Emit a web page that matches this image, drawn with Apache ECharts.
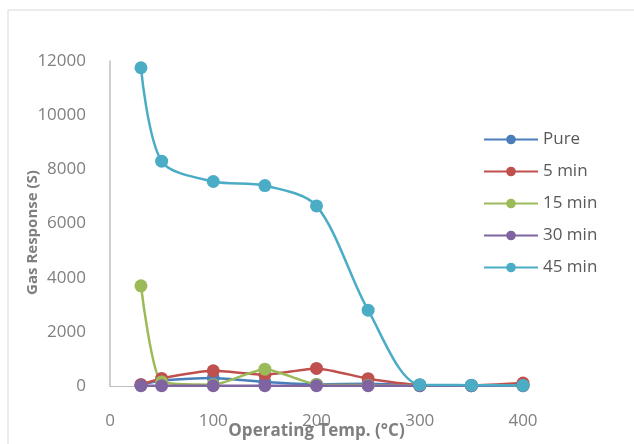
<!DOCTYPE html>
<html>
<head>
<meta charset="utf-8">
<script src="https://cdn.jsdelivr.net/npm/echarts@6/dist/echarts.min.js"></script>
<style>
  html, body { margin: 0; padding: 0; background: #fff; }
  #chart { width: 634px; height: 444px; }
</style>
</head>
<body>
<div id="chart"></div>
<script>
// operating temperature (°C)
const temps = [30, 50, 100, 150, 200, 250, 300, 350, 400];

const pure   = [50, 200, 300, 150, 60, 80, 20, 10, 30];
const min5   = [50, 280, 560, 420, 650, 270, 40, 20, 110];
const min15  = [3700, 150, 50, 620, 60, 30, 10, 10, 10];
const min30  = [10, 10, 10, 10, 10, 10, 10, 10, 10];
const min45  = [11750, 8300, 7550, 7400, 6650, 2800, 50, 30, 20];

const seriesNames = ['Pure', '5 min', '15 min', '30 min', '45 min'];
const seriesData = [pure, min5, min15, min30, min45];
const colors = ['#4a7ebb', '#c0504d', '#9bbb59', '#8064a2', '#4bacc6'];
const smoothing = [0.2, 0.2, 0.2, 0.2, 0.3];

const yTicks = [0, 2000, 4000, 6000, 8000, 10000, 12000];
const xTicks = [0, 100, 200, 300, 400];

const chart = echarts.init(document.getElementById('chart'));

const textColor = '#595959';
const font = '"Open Sans", sans-serif';

const option = {
  animation: false,
  textStyle: { fontFamily: font },
  graphic: [{
    type: 'rect',
    shape: { x: 8, y: 10, width: 640, height: 450 },
    style: { fill: 'none', stroke: '#d9d9d9', lineWidth: 1 },
    silent: true
  }],
  grid: { left: 110, right: 111, top: 61, bottom: 58, containLabel: false, outerBoundsMode: 'none' },
  xAxis: {
    type: 'value',
    min: xTicks[0],
    max: xTicks[xTicks.length - 1],
    interval: 100,
    name: 'Operating Temp. (\u00B0C)',
    nameLocation: 'middle',
    nameGap: 37,
    nameMoveOverlap: false,
    nameTextStyle: { color: '#7f7f7f', fontSize: 17, fontWeight: 'bold', fontFamily: font },
    axisLine: { show: true, lineStyle: { color: '#bfbfbf', width: 1 } },
    axisTick: { show: false },
    splitLine: { show: false },
    axisLabel: { color: '#808080', fontSize: 17, margin: 27, fontFamily: font, formatter: v => String(v) }
  },
  yAxis: {
    type: 'value',
    min: yTicks[0],
    max: yTicks[yTicks.length - 1],
    interval: 2000,
    name: 'Gas Response (S)',
    nameLocation: 'middle',
    nameGap: 70,
    nameMoveOverlap: false,
    nameRotate: 90,
    nameTextStyle: { color: '#7f7f7f', fontSize: 15, fontWeight: 'bold', fontFamily: font, padding: [0, 18, 0, 0] },
    axisLine: { show: true, lineStyle: { color: '#bfbfbf', width: 1.5 } },
    axisTick: { show: false },
    splitLine: { show: false },
    axisLabel: { color: '#808080', fontSize: 17, margin: 24, fontFamily: font, formatter: v => String(v) }
  },
  legend: {
    orient: 'vertical',
    left: 483,
    top: 131,
    padding: 0,
    itemWidth: 54,
    itemHeight: 12,
    itemGap: 15,
    data: seriesNames,
    textStyle: { color: textColor, fontSize: 17, fontFamily: font }
  },
  series: seriesNames.map((name, i) => ({
    name: name,
    type: 'line',
    smooth: smoothing[i],
    symbol: 'circle',
    symbolSize: 13,
    color: colors[i],
    lineStyle: { width: 2.5, color: colors[i] },
    itemStyle: { color: colors[i] },
    data: temps.map((t, j) => [t, seriesData[i][j]])
  }))
};

chart.setOption(option);
</script>
</body>
</html>
